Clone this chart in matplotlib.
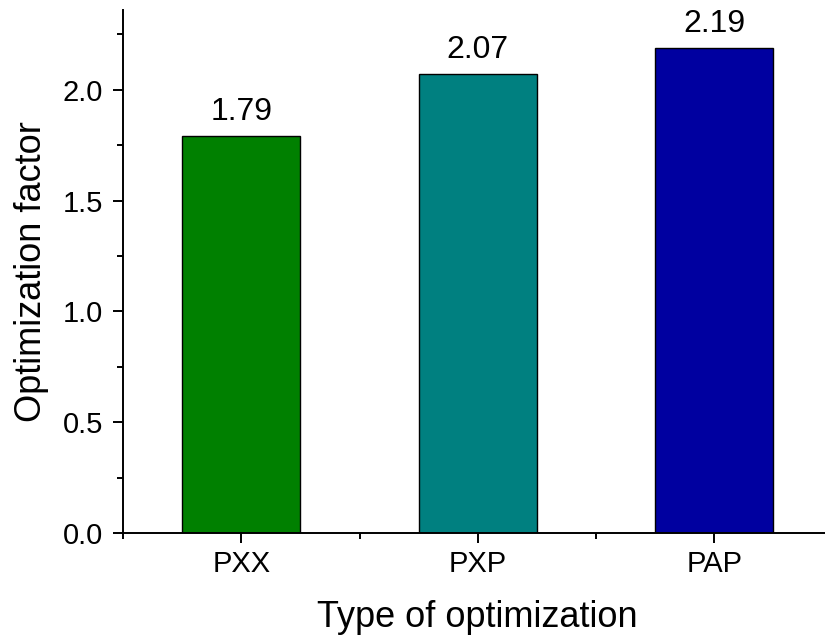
import matplotlib.pyplot as plt
from matplotlib.ticker import MultipleLocator, FixedLocator

plt.rcParams['font.family'] = ['Liberation Sans', 'DejaVu Sans']

categories = ['PXX', 'PXP', 'PAP']
factors = [1.79, 2.07, 2.19]
colors = ['#008000', '#008080', '#0000A0']

fig = plt.figure(figsize=(8.25, 6.35), dpi=100)
ax = fig.add_axes([123 / 825, 102 / 635, 709.5 / 825, 523 / 635])

pos = list(range(1, len(categories) + 1))
bars = ax.bar(pos, factors, width=0.5, color=colors, edgecolor='black', linewidth=1.0)

for b, v in zip(bars, factors):
    ax.annotate(f'{v:.2f}', (b.get_x() + b.get_width() / 2, v),
                xytext=(0, 11.5), textcoords='offset points',
                ha='center', va='baseline', fontsize=23)

ax.set_xlim(0.5, 3.5)
ax.set_ylim(0, 2.36)
ax.set_xticks(pos)
ax.set_xticklabels(categories)
ax.xaxis.set_minor_locator(FixedLocator([0.5, 1.5, 2.5, 3.5]))
ax.yaxis.set_major_locator(MultipleLocator(0.5))
ax.yaxis.set_minor_locator(MultipleLocator(0.25))
ax.yaxis.set_major_formatter(plt.FuncFormatter(lambda v, p: f'{v:.1f}'))

for s in ['top', 'right']:
    ax.spines[s].set_visible(False)
for s in ['left', 'bottom']:
    ax.spines[s].set_linewidth(1.4)

ax.tick_params(which='major', direction='out', length=7.2, width=1.4, labelsize=21)
ax.tick_params(which='minor', direction='out', length=4, width=1.4)
ax.tick_params(axis='y', which='major', pad=7)
ax.tick_params(axis='x', which='major', pad=5)

ax.set_xlabel('Type of optimization', fontsize=26, labelpad=16)
ax.set_ylabel('Optimization factor', fontsize=26, labelpad=10)

fig.savefig('out.png', dpi=100)
